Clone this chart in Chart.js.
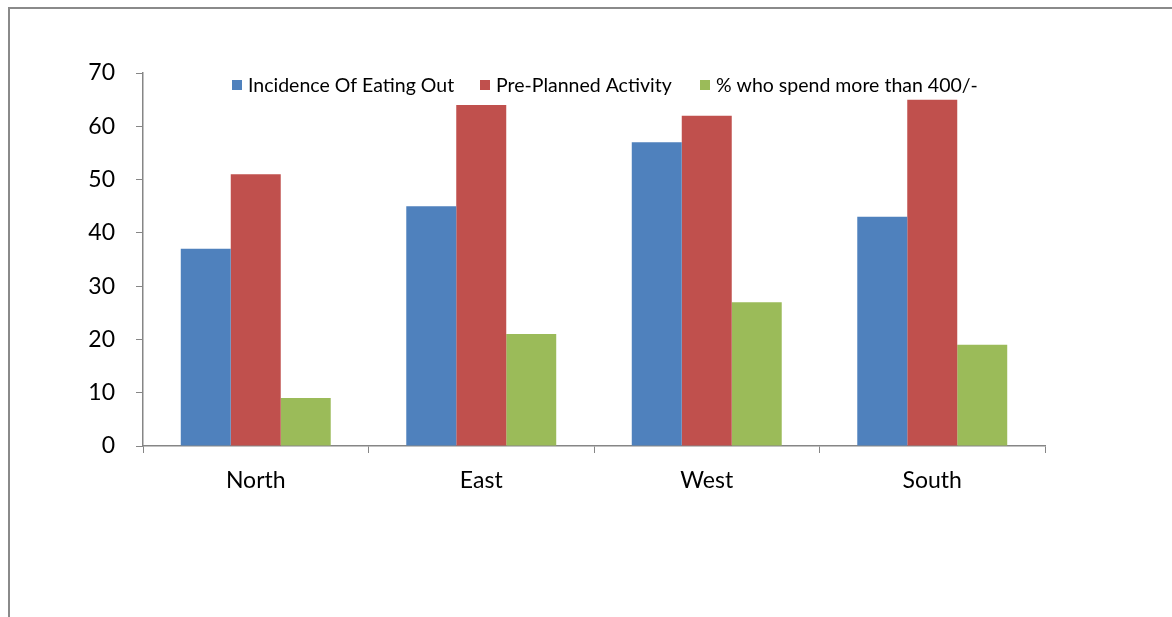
<!DOCTYPE html>
<html>
<head>
<meta charset="utf-8">
<script src="https://cdn.jsdelivr.net/npm/chart.js@4/dist/chart.umd.min.js"></script>
<style>
  html, body { margin: 0; padding: 0; background: #fff; }
  #wrap { position: relative; width: 1172px; height: 617px; }
</style>
</head>
<body>
<div id="wrap"><canvas id="chart" width="1172" height="617"></canvas></div>
<script>
// Regions and survey series
const regions = ['North', 'East', 'West', 'South'];
const eatingOut = [37, 45, 57, 43];
const prePlanned = [51, 64, 62, 65];
const spendOver400 = [9, 21, 27, 19];
const seriesNames = ['Incidence Of Eating Out', 'Pre-Planned Activity', '% who spend more than 400/-'];
const yTicks = [0, 10, 20, 30, 40, 50, 60, 70];

const FONT = 'Lato, "Open Sans", sans-serif';
const AXIS = '#868686';

// Outer frame (top and left edges)
const framePlugin = {
  id: 'frame',
  beforeDraw(chart) {
    const c = chart.ctx;
    c.save();
    c.strokeStyle = '#8a8a8a';
    c.lineWidth = 2;
    c.beginPath();
    c.moveTo(9, 617);
    c.lineTo(9, 8);
    c.lineTo(1172, 8);
    c.stroke();
    c.restore();
  }
};

// Legend drawn inline across the top of the plot
const legendBoxX = [232, 480, 700];
const inlineLegend = {
  id: 'inlineLegend',
  afterDraw(chart) {
    const c = chart.ctx;
    c.save();
    c.font = '19.5px ' + FONT;
    c.textBaseline = 'middle';
    c.textAlign = 'left';
    const y = 85;
    chart.data.datasets.forEach((ds, i) => {
      const x = legendBoxX[i];
      c.fillStyle = ds.backgroundColor;
      c.fillRect(x, y - 5, 10, 10);
      c.fillStyle = '#000';
      c.fillText(ds.label, x + 16, y + 1);
    });
    c.restore();
  }
};

new Chart(document.getElementById('chart'), {
  type: 'bar',
  data: {
    labels: regions,
    datasets: [
      { label: seriesNames[0], data: eatingOut, backgroundColor: '#4F81BD' },
      { label: seriesNames[1], data: prePlanned, backgroundColor: '#C0504D' },
      { label: seriesNames[2], data: spendOver400, backgroundColor: '#9BBB59' }
    ]
  },
  options: {
    responsive: false,
    animation: false,
    layout: { padding: { top: 73, right: 127, left: 0, bottom: 0 } },
    datasets: { bar: { categoryPercentage: 0.665, barPercentage: 1.0 } },
    plugins: { legend: { display: false }, tooltip: { enabled: false } },
    scales: {
      x: {
        grid: { offset: true, drawOnChartArea: false, drawTicks: true, tickLength: 7, color: AXIS, lineWidth: 1 },
        border: { display: true, color: AXIS, width: 1.5 },
        ticks: { color: '#000', font: { family: FONT, size: 23 }, padding: 14 },
        afterFit(scale) { scale.height = 171; }
      },
      y: {
        min: 0, max: 70,
        afterBuildTicks(scale) { scale.ticks = yTicks.map(v => ({ value: v })); },
        grid: { drawOnChartArea: false, drawTicks: true, tickLength: 7, color: AXIS, lineWidth: 1 },
        border: { display: true, color: AXIS, width: 1.5 },
        ticks: { color: '#000', font: { family: FONT, size: 23 }, padding: 21 },
        afterFit(scale) { scale.width = 143; }
      }
    }
  },
  plugins: [framePlugin, inlineLegend]
});
</script>
</body>
</html>
